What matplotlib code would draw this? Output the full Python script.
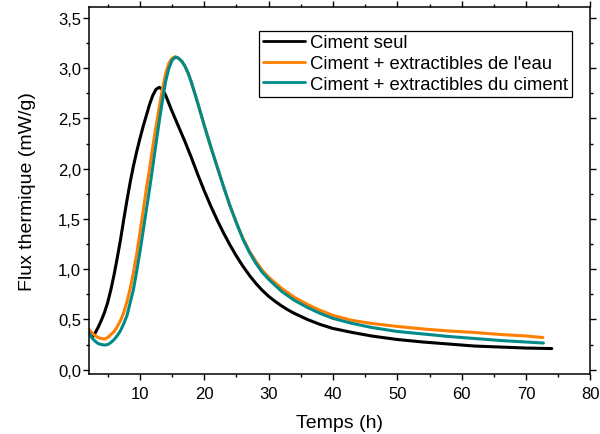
import matplotlib
matplotlib.use('Agg')
from matplotlib import pyplot as plt
from matplotlib.ticker import MultipleLocator, FuncFormatter

# Ciment seul
t_seul = [2.7, 3.0, 3.5, 4.0, 4.5, 5.0, 5.5, 6.0, 6.5, 7.0, 7.5, 8.0, 8.5, 9.0, 9.5, 10.0,
          10.5, 11.0, 11.5, 12.0, 12.5, 13.0, 13.5, 14.0, 14.5, 15.0, 16.0, 17.0, 18.0,
          19.0, 20.0, 21.0, 22.0, 23.0, 24.0, 25.0, 26.0, 27.0, 28.0, 29.0, 30.0, 31.0,
          32.0, 33.0, 34.0, 35.0, 36.0, 38.0, 40.0, 43.0, 46.0, 50.0, 54.0, 58.0, 62.0,
          66.0, 70.0, 74.0]
flux_seul = [0.33, 0.36, 0.42, 0.49, 0.57, 0.67, 0.80, 0.95, 1.12, 1.30, 1.50, 1.69, 1.87,
             2.03, 2.17, 2.30, 2.42, 2.53, 2.64, 2.73, 2.79, 2.81, 2.79, 2.73, 2.65, 2.57,
             2.42, 2.27, 2.11, 1.94, 1.78, 1.63, 1.49, 1.36, 1.24, 1.13, 1.03, 0.94, 0.86,
             0.79, 0.73, 0.68, 0.635, 0.595, 0.56, 0.53, 0.50, 0.45, 0.41, 0.37, 0.335,
             0.30, 0.275, 0.255, 0.235, 0.225, 0.215, 0.21]

# Ciment + extractibles de l'eau
t_eau = [2.1, 2.5, 3.0, 3.5, 4.0, 4.5, 5.0, 5.5, 6.0, 6.5, 7.0, 7.5, 8.0, 8.5, 9.0, 9.5,
         10.0, 10.5, 11.0, 11.5, 12.0, 12.5, 13.0, 13.5, 14.0, 14.5, 15.0, 15.5, 16.0,
         16.5, 17.0, 17.5, 18.0, 19.0, 20.0, 21.0, 22.0, 23.0, 24.0, 25.0, 26.0, 27.0,
         28.0, 29.0, 30.0, 32.0, 34.0, 36.0, 38.0, 40.0, 43.0, 46.0, 50.0, 54.0, 58.0,
         62.0, 66.0, 70.0, 72.6]
flux_eau = [0.40, 0.37, 0.34, 0.32, 0.31, 0.305, 0.32, 0.35, 0.38, 0.43, 0.49, 0.57, 0.68,
            0.81, 0.97, 1.15, 1.36, 1.58, 1.80, 2.00, 2.22, 2.42, 2.61, 2.79, 2.95, 3.05,
            3.10, 3.115, 3.10, 3.07, 3.02, 2.95, 2.86, 2.65, 2.43, 2.22, 2.02, 1.82, 1.63,
            1.46, 1.31, 1.18, 1.08, 0.99, 0.92, 0.81, 0.72, 0.65, 0.59, 0.54, 0.49, 0.46,
            0.43, 0.405, 0.385, 0.37, 0.35, 0.335, 0.32]

# Ciment + extractibles du ciment
t_cim = [2.1, 2.5, 3.0, 3.5, 4.0, 4.5, 5.0, 5.5, 6.0, 6.5, 7.0, 7.5, 8.0, 8.5, 9.0, 9.5,
         10.0, 10.5, 11.0, 11.5, 12.0, 12.5, 13.0, 13.5, 14.0, 14.5, 15.0, 15.5, 16.0,
         16.5, 17.0, 17.5, 18.0, 19.0, 20.0, 21.0, 22.0, 23.0, 24.0, 25.0, 26.0, 27.0,
         28.0, 29.0, 30.0, 32.0, 34.0, 36.0, 38.0, 40.0, 43.0, 46.0, 50.0, 54.0, 58.0,
         62.0, 66.0, 70.0, 72.7]
flux_cim = [0.37, 0.32, 0.285, 0.26, 0.25, 0.245, 0.25, 0.27, 0.30, 0.34, 0.39, 0.46, 0.54,
            0.67, 0.80, 0.98, 1.17, 1.38, 1.59, 1.80, 2.02, 2.25, 2.47, 2.68, 2.87, 3.00,
            3.08, 3.11, 3.10, 3.07, 3.02, 2.95, 2.86, 2.65, 2.43, 2.22, 2.02, 1.82, 1.63,
            1.46, 1.30, 1.17, 1.06, 0.97, 0.90, 0.78, 0.69, 0.62, 0.56, 0.51, 0.46, 0.42,
            0.38, 0.355, 0.33, 0.31, 0.29, 0.275, 0.265]

labels = ['Ciment seul', "Ciment + extractibles de l'eau", 'Ciment + extractibles du ciment']
colors = ['black', '#ff7f00', '#008b8b']

plt.rcParams['font.family'] = ['Liberation Sans', 'DejaVu Sans']

fig = plt.figure(figsize=(6, 4.35), dpi=100)
ax = fig.add_axes([0.149, 0.138, 0.835, 0.843])

series = [(t_seul, flux_seul), (t_eau, flux_eau), (t_cim, flux_cim)]
for (t, f), lab, col in zip(series, labels, colors):
    ax.plot(t, f, color=col, lw=2.2, label=lab, solid_capstyle='round', solid_joinstyle='round')

ax.set_xlim(2.15, 80)
ax.set_ylim(-0.043, 3.607)

ax.xaxis.set_major_locator(MultipleLocator(10))
ax.xaxis.set_minor_locator(MultipleLocator(5))
ax.yaxis.set_major_locator(MultipleLocator(0.5))
ax.yaxis.set_minor_locator(MultipleLocator(0.25))
ax.yaxis.set_major_formatter(FuncFormatter(lambda v, p: '{:.1f}'.format(v).replace('.', ',')))

ax.tick_params(which='both', direction='out', top=True, right=True, width=1.0,
               labelsize=12)
ax.tick_params(which='major', length=4.3)
ax.tick_params(which='minor', length=2.3)
ax.tick_params(axis='y', which='major', pad=1.8)
ax.tick_params(axis='x', which='major', pad=4.5)
for s in ax.spines.values():
    s.set_linewidth(1.1)

ax.set_xlabel('Temps (h)', fontsize=14, labelpad=9)
ax.set_ylabel('Flux thermique (mW/g)', fontsize=14, labelpad=16)

leg = ax.legend(loc='upper left', bbox_to_anchor=(0.339, 0.936), fontsize=13.3,
                fancybox=False, edgecolor='black', framealpha=1, borderpad=0.2,
                handlelength=2.3, handletextpad=0.25, labelspacing=0.2, borderaxespad=0)
leg.get_frame().set_linewidth(0.9)
for h in leg.get_lines():
    h.set_linewidth(2.0)

fig.savefig('out.png', dpi=100)
